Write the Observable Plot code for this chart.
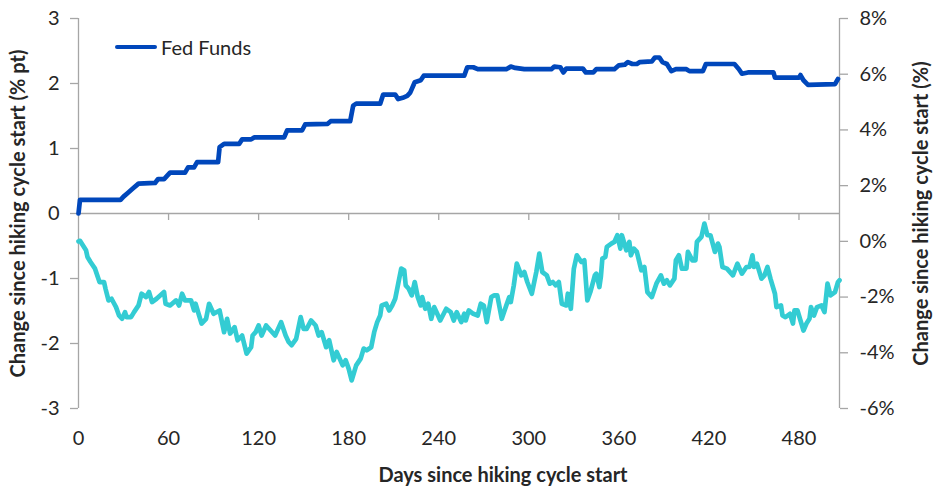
<!DOCTYPE html>
<html><head><meta charset="utf-8">
<script src="https://cdn.jsdelivr.net/npm/d3@7"></script>
<script src="https://cdn.jsdelivr.net/npm/@observablehq/plot@0.6"></script>
<style>
body{margin:0;background:#fff;}
#wrap{position:relative;width:933px;height:488px;}
#legend{position:absolute;left:115px;top:34px;display:flex;align-items:center;font:20px Lato,sans-serif;color:#262626;line-height:26px;}
#legend .sw{display:inline-block;width:42px;height:4.5px;background:#0047bb;margin-right:4px;border-radius:2px;}
</style></head><body>
<div id="wrap"><div id="legend"><span class="sw"></span>Fed Funds</div></div>
<script>
// Fed Funds: change since hiking cycle start (% pt), left axis
const fedDays   = [0,1,28,30,33,36,40,51,53,57,59,61,71,73,77,79,93,94,97,107,109,115,117,137,139,149,151,166,168,181,183,185,201,203,211,213,216,219,221,224,228,230,257,259,263,266,285,288,291,297,315,317,321,323,325,336,338,343,345,357,360,364,366,369,372,374,382,384,387,389,392,395,398,405,407,416,418,437,440,442,446,463,464,480,481,483,486,504,506];
const fedValues = [0,0.21,0.21,0.26,0.32,0.38,0.46,0.47,0.53,0.53,0.58,0.63,0.63,0.71,0.71,0.79,0.79,1.02,1.07,1.07,1.14,1.14,1.17,1.17,1.28,1.28,1.37,1.38,1.42,1.42,1.66,1.69,1.69,1.83,1.83,1.76,1.78,1.81,1.86,2.02,2.05,2.12,2.12,2.25,2.25,2.22,2.22,2.26,2.24,2.22,2.22,2.26,2.25,2.17,2.23,2.23,2.17,2.17,2.22,2.22,2.28,2.29,2.33,2.30,2.30,2.33,2.34,2.40,2.40,2.33,2.30,2.19,2.22,2.22,2.19,2.19,2.30,2.30,2.22,2.15,2.17,2.17,2.09,2.09,2.13,2.05,1.98,1.99,2.07];

// Second series: change since hiking cycle start (%), right axis
const otherDays   = [0,1,5,6,8,11,14,17,18,20,22,25,27,29,31,32,35,37,40,42,45,47,49,52,57,58,61,65,67,69,71,75,77,78,80,82,85,87,90,94,97,99,101,104,106,109,112,115,116,118,120,122,125,128,131,135,138,140,142,145,148,150,152,155,158,160,162,165,167,170,172,174,176,178,180,182,185,188,190,192,195,197,199,201,202,205,207,209,211,213,215,217,218,220,222,224,226,228,229,231,233,235,237,239,241,245,248,250,252,255,257,258,260,263,266,268,270,272,275,277,279,282,285,287,288,290,292,295,297,299,302,305,307,309,312,314,316,318,320,322,325,326,328,330,332,335,337,339,341,344,345,347,348,349,351,352,355,357,359,361,362,365,367,368,370,372,375,377,379,382,385,388,390,392,394,397,398,400,402,405,406,409,411,412,415,417,419,421,424,426,427,429,432,436,439,442,445,447,449,450,452,455,457,459,461,464,465,468,469,471,474,476,477,479,481,483,485,487,488,490,492,495,497,499,501,504,506,507];
const otherValues = [0,0.02,-0.32,-0.56,-0.74,-0.98,-1.46,-1.46,-1.70,-2.12,-2.06,-2.36,-2.66,-2.78,-2.54,-2.72,-2.72,-2.54,-2.30,-1.88,-2.00,-1.82,-2.18,-2.06,-1.82,-2.24,-2.30,-2.12,-2.30,-1.88,-2.12,-2.12,-2.48,-2.24,-2.60,-2.95,-2.78,-2.24,-2.60,-2.48,-3.26,-2.78,-3.31,-3.08,-3.55,-3.38,-4.03,-3.80,-3.38,-3.26,-3.02,-3.38,-3.02,-3.20,-3.38,-2.90,-3.38,-3.61,-3.73,-3.50,-2.72,-3.14,-3.14,-2.84,-3.02,-3.38,-3.26,-3.80,-3.55,-4.27,-3.97,-4.21,-4.45,-4.27,-4.57,-4.99,-4.45,-4.21,-3.85,-3.91,-3.80,-3.26,-2.90,-2.66,-2.30,-2.24,-2.48,-2.30,-2.06,-1.52,-0.98,-1.04,-1.58,-1.70,-1.94,-1.46,-2.00,-2.30,-2.00,-2.42,-2.24,-2.78,-2.36,-2.60,-2.84,-2.42,-2.54,-2.84,-2.54,-2.90,-2.60,-2.84,-2.48,-2.60,-2.66,-2.24,-2.30,-2.90,-2.00,-1.94,-1.94,-2.78,-2.30,-2.00,-2.18,-1.58,-0.80,-1.22,-1.10,-1.46,-1.88,-1.10,-0.44,-1.10,-1.22,-1.52,-1.46,-1.58,-1.46,-2.24,-2.30,-1.88,-2.42,-0.98,-0.50,-0.74,-0.68,-2.12,-1.82,-1.22,-1.16,-1.64,-1.28,-0.62,-0.56,-0.20,-0.08,-0.02,0.22,-0.26,0.22,-0.32,-0.02,-0.50,-0.26,-0.38,-1.04,-0.92,-1.82,-2.00,-1.52,-1.22,-1.52,-1.40,-1.58,-1.34,-0.68,-0.50,-0.98,-0.98,-0.38,-0.68,-0.68,-0.02,0.16,0.64,0.22,0.22,-0.38,-0.08,-0.20,-0.92,-0.98,-1.22,-0.80,-1.16,-0.92,-0.92,-0.50,-0.92,-0.80,-1.34,-1.22,-0.92,-1.34,-1.88,-2.36,-2.30,-2.66,-2.72,-2.60,-2.95,-2.48,-2.48,-2.84,-3.20,-2.95,-2.78,-2.36,-2.66,-2.36,-2.30,-2.54,-1.52,-1.94,-1.82,-1.46,-1.40];

const xTicks = [0,60,120,180,240,300,360,420,480];
const leftTicks = [-3,-2,-1,0,1,2,3];
const rightTicks = [-6,-4,-2,0,2,4,6,8];
const xDomain = [0,507];
const leftDomain = [-3,3];
const rightDomain = [-6,8];

const toLeft = p => leftDomain[0] + (p - rightDomain[0]) * (leftDomain[1]-leftDomain[0]) / (rightDomain[1]-rightDomain[0]);
const fromLeft = v => rightDomain[0] + (v - leftDomain[0]) * (rightDomain[1]-rightDomain[0]) / (leftDomain[1]-leftDomain[0]);

const fed = fedDays.map((d,i) => ({day:d, value:fedValues[i]}));
const other = otherDays.map((d,i) => ({day:d, value:toLeft(otherValues[i])}));

const axisColor = "#a6a6a6";
const textColor = "#262626";
const font = "Lato, sans-serif";
const fs = 20;

const chart = Plot.plot({
  width: 933, height: 488,
  marginLeft: 78, marginRight: 94, marginTop: 18, marginBottom: 80,
  style: {fontFamily: font, fontSize: fs + "px", color: textColor, background: "#fff"},
  x: {domain: xDomain, label: null},
  y: {domain: leftDomain, label: null},
  marks: [
    Plot.ruleX(xDomain, {stroke: axisColor, strokeWidth: 1.3}),
    Plot.ruleY([0], {stroke: axisColor, strokeWidth: 1.3}),
    Plot.ruleX(xTicks.slice(1), {x: d => d, y1: 0, y2: 0, insetBottom: -7, stroke: axisColor, strokeWidth: 1.3}),
    Plot.axisX({ticks: xTicks, tickSize: 0, tickPadding: 22, tickFormat: d => d, fontSize: fs, fill: textColor, label: null}),
    Plot.axisY({anchor: "left", ticks: leftTicks, tickSize: 8, tickPadding: 11, tickFormat: d => d, stroke: axisColor, strokeWidth: 1.3, fill: textColor, fontSize: fs, label: null}),
    Plot.axisY({anchor: "right", ticks: rightTicks.map(toLeft), tickSize: 8, tickPadding: 12, tickFormat: v => Math.round(fromLeft(v)) + "%", stroke: axisColor, strokeWidth: 1.3, fill: textColor, fontSize: fs, label: null}),
    Plot.line(other, {x: "day", y: "value", stroke: "#33ccd3", strokeWidth: 4.7, strokeLinejoin: "round", strokeLinecap: "round"}),
    Plot.line(fed, {x: "day", y: "value", stroke: "#0047bb", strokeWidth: 4.7, strokeLinejoin: "round", strokeLinecap: "round"}),
    Plot.text(["Change since hiking cycle start (% pt)"], {frameAnchor: "left", textAnchor: "middle", dx: -60, rotate: -90, fontWeight: "bold", fontSize: fs, fill: textColor}),
    Plot.text(["Change since hiking cycle start (%)"], {frameAnchor: "right", textAnchor: "middle", dx: 82, rotate: -90, fontWeight: "bold", fontSize: fs, fill: textColor}),
    Plot.text(["Days since hiking cycle start"], {frameAnchor: "bottom", dx: 44, dy: 73, fontWeight: "bold", fontSize: fs, fill: textColor})
  ]
});
document.getElementById("wrap").prepend(chart);
</script>
</body></html>
